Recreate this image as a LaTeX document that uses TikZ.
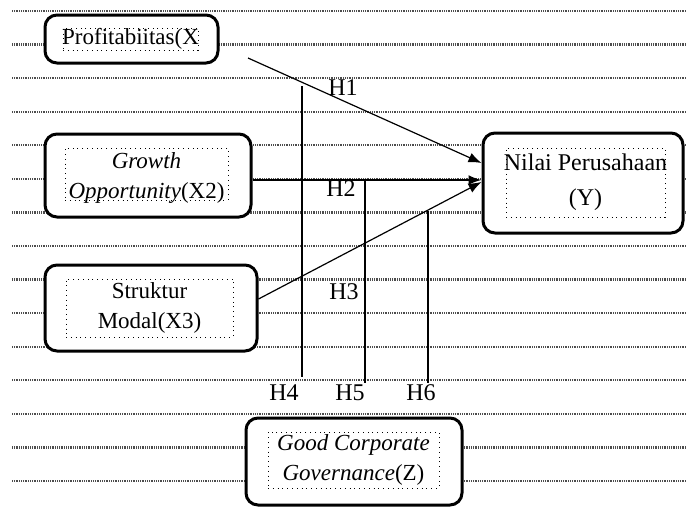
\documentclass[tikz,border=0pt]{standalone}
\usepackage{fontspec}
\setmainfont{Liberation Serif}
\usetikzlibrary{arrows.meta}
\begin{document}
\begin{tikzpicture}[x=0.5pt,y=-0.5pt,
  outerbox/.style={draw, line width=1.5pt, rounded corners=6pt, fill=white, inner sep=0pt},
  innerbox/.style={draw, dotted, line width=0.4pt, inner sep=0pt},
  txt/.style={inner sep=0pt, align=center, font=\fontsize{11.5}{15}\selectfont},
  rule/.style={black!70, line width=1.1pt, dash pattern=on 0.45pt off 0.45pt},
  link/.style={line width=0.6pt},
  arr/.style={link, -{Latex[length=6.5pt,width=5pt]}},
  hlabel/.style={font=\fontsize{12}{14}\selectfont, inner sep=1pt}]
\useasboundingbox (0,0) rectangle (686,509);
\fill[white] (0,0) rectangle (686,509);
\foreach \i in {0,...,14} \draw[rule] (12,{11+33.57*\i}) -- (686,{11+33.57*\i});

% boxes
\node[outerbox, minimum width=86.5pt, minimum height=24pt] (x1) at (131.5,39) {};
\node[innerbox, minimum width=67.5pt, minimum height=11pt] (x1i) at (130.5,39) {};
\node[txt] (x1t) at (x1i) {Profitabiitas(X};

\node[outerbox, minimum width=103pt, minimum height=41.5pt] (x2) at (148,175.5) {};
\node[innerbox, minimum width=81.5pt, minimum height=26pt] (x2i) at (146.5,174) {};
\node[txt] (x2t) at (146.5,178) {\itshape Growth\\{\itshape Opportunity}(X2)};

\node[outerbox, minimum width=106pt, minimum height=43pt] (x3) at (151,308) {};
\node[innerbox, minimum width=83.5pt, minimum height=29pt] (x3i) at (149.5,308) {};
\node[txt] (x3t) at (x3i) {Struktur\\Modal(X3)};

\node[outerbox, minimum width=100pt, minimum height=50pt] (y) at (583,183) {};
\node[innerbox, minimum width=79.5pt, minimum height=34.5pt] (yi) at (585.5,182.5) {};
\node[txt, font=\fontsize{12}{17.5}\selectfont] (yt) at (yi) {Nilai Perusahaan\\(Y)};

\node[outerbox, minimum width=108pt, minimum height=43.5pt] (z) at (354,461.5) {};
\node[innerbox, minimum width=85.5pt, minimum height=28pt] (zi) at (353.5,460) {};
\node[txt] (zt) at (zi) {\itshape Good Corporate\\{\itshape Governance}(Z)};

% arrows
\coordinate (h1s) at (248,58);
\draw[arr] (h1s) -- ([yshift=10pt]y.west);
\draw[arr, line width=1pt] ([yshift=-2.25pt]x2.east) -- ([yshift=1.5pt]y.west);
\draw[arr] ([yshift=4.5pt]x3.east) -- ([yshift=0.5pt]y.west);

% moderation lines
\coordinate (h4a) at (302,86);  \coordinate (h4b) at (302,377);
\coordinate (h5a) at (365,181); \coordinate (h5b) at (365,383);
\coordinate (h6a) at (428,211); \coordinate (h6b) at (428,383);
\draw[link] (h4a) -- (h4b);
\draw[link] (h5a) -- (h5b);
\draw[link] (h6a) -- (h6b);

% labels
\node[hlabel] (l1) at (343,88) {H1};
\node[hlabel] (l2) at (341,189) {H2};
\node[hlabel] (l3) at (344,292) {H3};
\node[hlabel] (l4) at (284,393) {H4};
\node[hlabel] (l5) at (350,393) {H5};
\node[hlabel] (l6) at (421,393) {H6};
\end{tikzpicture}
\end{document}
